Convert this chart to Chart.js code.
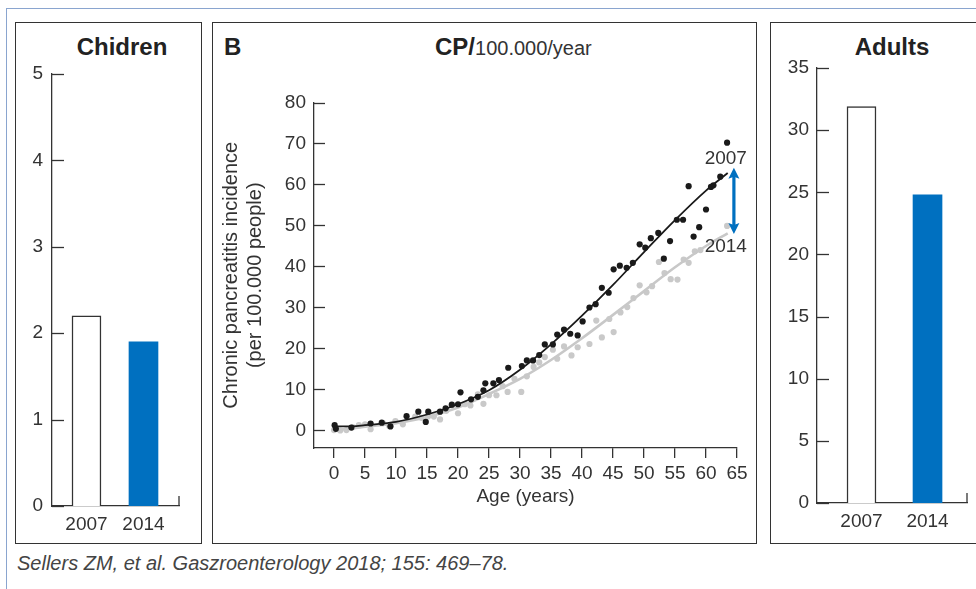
<!DOCTYPE html>
<html><head><meta charset="utf-8">
<script src="https://cdn.jsdelivr.net/npm/chart.js@4.4.1/dist/chart.umd.min.js"></script>
<style>
html,body{margin:0;padding:0;background:#fff;}
body{width:976px;height:589px;position:relative;overflow:hidden;font-family:"Liberation Sans",Arial,sans-serif;color:#333;}
.frame{position:absolute;left:6px;top:8px;width:1000px;height:620px;border-top:1.5px solid #8aa5cf;border-left:1.5px solid #8aa5cf;}
.box{position:absolute;border:1.5px solid #333;box-sizing:border-box;}
.cv{position:absolute;}
.t{position:absolute;white-space:nowrap;line-height:1;}
</style></head><body>
<div class="frame"></div>
<div class="box" style="left:15px;top:22px;width:187px;height:522px;"></div>
<div class="box" style="left:212px;top:22px;width:545px;height:522px;"></div>
<div class="box" style="left:770px;top:22px;width:230px;height:522px;"></div>

<div class="t" style="left:122px;top:47px;transform:translate(-50%,-50%);font-weight:bold;font-size:24px;color:#222;">Chidren</div>
<div class="t" style="left:892px;top:47px;transform:translate(-50%,-50%);font-weight:bold;font-size:24px;color:#222;">Adults</div>
<div class="t" style="left:224px;top:47px;transform:translate(0,-50%);font-weight:bold;font-size:24px;color:#222;">B</div>
<div class="t" style="left:435px;top:47px;transform:translate(0,-50%);color:#222;"><b style="font-size:24px;">CP/</b><span style="font-size:20px;color:#333;">100.000/year</span></div>
<div class="t" style="left:17px;top:563px;transform:translate(0,-50%);font-style:italic;font-size:20px;color:#444;">Sellers ZM, et al. Gaszroenterology 2018; 155: 469–78.</div>

<canvas id="cLeft" class="cv" width="185" height="520" style="left:16px;top:23px;width:185px;height:520px;"></canvas>
<canvas id="cMid" class="cv" width="543" height="519" style="left:213px;top:23px;width:543px;height:519px;"></canvas>
<canvas id="cRight" class="cv" width="205" height="520" style="left:771px;top:23px;width:205px;height:520px;"></canvas>

<script>
// ---------- data ----------
const yearCats = ['2007', '2014'];
const childVals = [2.2, 1.9];
const adultVals = [31.9, 24.8];
const childTicks = [0, 1, 2, 3, 4, 5];
const adultTicks = [0, 5, 10, 15, 20, 25, 30, 35];
const ageTicks = [0, 5, 10, 15, 20, 25, 30, 35, 40, 45, 50, 55, 60, 65];
const incTicks = [0, 5, 10, 15, 20, 25, 30, 35, 40, 45, 50, 55, 60, 65, 70, 75, 80];

const age2007 = [0.1, 0.3, 2.8, 5.9, 7.7, 9.1, 11.7, 13.6, 14.8, 15.2, 17.1, 18.0, 19.0, 20.0, 20.4, 22.1, 23.2, 24.1, 24.4, 25.7, 26.6, 28.1, 30.3, 31.1, 32.1, 33.1, 34.0, 35.3, 36.0, 37.1, 38.1, 39.3, 40.1, 41.2, 42.2, 43.2, 44.3, 45.1, 46.1, 47.2, 48.2, 49.3, 50.2, 51.1, 52.3, 53.2, 54.2, 55.3, 56.3, 57.2, 58.0, 58.9, 60.0, 60.8, 61.2, 62.3, 63.4];
const inc2007 = [1.3, 0.4, 0.7, 1.7, 1.9, 1.0, 3.5, 4.6, 2.1, 4.6, 4.6, 5.4, 6.3, 6.4, 9.3, 7.6, 8.2, 9.8, 11.5, 11.5, 12.3, 15.3, 15.7, 17.1, 17.1, 18.4, 21.0, 21.0, 23.4, 24.6, 23.6, 23.2, 26.6, 30.0, 30.8, 34.8, 33.6, 39.3, 40.2, 39.7, 40.9, 45.4, 44.6, 46.9, 48.2, 41.9, 46.2, 51.4, 51.4, 59.6, 47.3, 49.6, 53.9, 59.4, 59.8, 61.9, 70.2];

const age2014 = [0.0, 1.0, 2.0, 3.0, 4.0, 5.0, 5.9, 7.9, 8.9, 9.9, 11.1, 13.1, 14.1, 15.2, 16.1, 17.1, 18.1, 19.0, 20.0, 21.1, 22.0, 23.2, 24.1, 25.0, 26.2, 27.2, 28.0, 29.1, 30.2, 31.1, 32.2, 33.1, 34.0, 35.3, 36.0, 37.1, 38.3, 39.3, 41.2, 42.3, 43.2, 44.4, 45.1, 46.2, 47.3, 48.3, 49.3, 50.4, 51.3, 52.4, 53.3, 54.3, 55.4, 56.4, 57.2, 58.2, 59.1, 63.4];
const inc2014 = [0.1, 0.0, 0.1, 0.8, 1.3, 1.5, 0.3, 1.8, 1.1, 2.3, 1.5, 3.4, 3.1, 3.5, 3.4, 2.7, 4.8, 6.2, 4.2, 6.4, 6.1, 8.8, 6.5, 8.6, 8.6, 10.8, 9.4, 12.6, 9.4, 13.2, 15.5, 16.6, 17.9, 19.7, 17.5, 20.5, 18.3, 20.3, 21.1, 26.8, 22.7, 27.2, 24.0, 28.8, 30.1, 32.3, 35.4, 33.7, 35.2, 41.1, 38.4, 36.9, 36.8, 41.7, 40.9, 43.7, 44.0, 49.9];

const fitAge = [0, 3, 5, 10, 15, 20, 25, 30, 35, 40, 45, 50, 55, 60, 63.5];
const fit2007 = [1.0, 1.0, 1.3, 2.1, 3.9, 6.4, 9.8, 14.8, 21.0, 28.0, 35.5, 43.5, 51.3, 58.5, 62.8];
const fit2014 = [0.2, 0.5, 0.9, 1.8, 3.3, 5.6, 8.9, 12.6, 17.2, 22.5, 28.2, 34.0, 39.8, 45.0, 48.1];

const arrowAge = [64.5];
const arrowRange = [47.9, 64.1];

// ---------- helpers ----------
const pts = (xs, ys) => xs.map((x, i) => ({x: x, y: ys[i]}));
const INK = '#333';
const BLUE = '#0070c0';
Chart.defaults.font.family = '"Liberation Sans", Arial, sans-serif';
Chart.defaults.color = INK;
Chart.defaults.devicePixelRatio = 1;

const decorPlugin = {
  id: 'decor',
  afterDraw(chart, args, opts) {
    const ctx = chart.ctx, ca = chart.chartArea, ys = chart.scales.y;
    ctx.save();
    ctx.strokeStyle = INK;
    ctx.lineWidth = 1.3;
    if (opts.inTick) {
      ys.ticks.forEach(t => {
        const py = Math.round(ys.getPixelForValue(t.value)) + 0.5;
        ctx.beginPath(); ctx.moveTo(ca.left, py); ctx.lineTo(ca.left + opts.inTick, py); ctx.stroke();
      });
    }
    if (opts.endTick) {
      ctx.beginPath(); ctx.moveTo(ca.right, ca.bottom); ctx.lineTo(ca.right, ca.bottom - opts.endTick); ctx.stroke();
    }
    if (opts.arrow) {
      const xs = chart.scales.x;
      const px = xs.getPixelForValue(arrowAge[0]);
      const top = ys.getPixelForValue(arrowRange[1]);
      const bot = ys.getPixelForValue(arrowRange[0]);
      ctx.fillStyle = BLUE;
      ctx.fillRect(px - 1.6, top + 8, 3.2, bot - top - 16);
      ctx.beginPath(); ctx.moveTo(px, top); ctx.lineTo(px - 5.5, top + 11); ctx.lineTo(px, top + 9); ctx.lineTo(px + 5.5, top + 11); ctx.closePath(); ctx.fill();
      ctx.beginPath(); ctx.moveTo(px, bot); ctx.lineTo(px - 5.5, bot - 11); ctx.lineTo(px, bot - 9); ctx.lineTo(px + 5.5, bot - 11); ctx.closePath(); ctx.fill();
      ctx.fillStyle = INK;
      ctx.font = '19px "Liberation Sans", Arial, sans-serif';
      ctx.textAlign = 'right';
      ctx.textBaseline = 'middle';
      ctx.fillText(yearCats[0], px + 13, top - 9);
      ctx.fillText(yearCats[1], px + 13, bot + 13);
    }
    ctx.restore();
  }
};

function barChart(id, vals, ticks, cfg) {
  return new Chart(document.getElementById(id), {
    type: 'bar',
    data: {
      datasets: [{
        data: pts([0, 1], vals),
        backgroundColor: ['#ffffff', BLUE],
        borderColor: [INK, BLUE],
        borderWidth: [1.5, 0],
        barThickness: 29
      }]
    },
    options: {
      responsive: false, animation: false, devicePixelRatio: 1,
      layout: {padding: cfg.pad},
      plugins: {legend: {display: false}, tooltip: {enabled: false}, decor: {inTick: 12, endTick: 10}},
      scales: {
        x: {
          type: 'linear', min: cfg.xmin, max: cfg.xmax, offset: false,
          grid: {display: false, offset: false, drawTicks: false},
          border: {display: true, color: INK, width: 1.3},
          afterBuildTicks: s => { s.ticks = [0, 1].map(v => ({value: v})); },
          afterFit: s => { s.height = 30; s.paddingLeft = 0; s.paddingRight = 0; },
          ticks: {padding: 7, font: {size: 19}, color: INK, maxRotation: 0, autoSkip: false,
                  callback: v => yearCats[v]}
        },
        y: {
          min: ticks[0], max: ticks[ticks.length - 1],
          grid: {display: false, drawTicks: false},
          border: {display: true, color: INK, width: 1.3},
          afterBuildTicks: s => { s.ticks = ticks.map(v => ({value: v})); },
          afterFit: s => { s.width = cfg.yw; s.paddingTop = 0; s.paddingBottom = 0; },
          ticks: {padding: cfg.ypad, font: {size: 19}, color: INK}
        }
      }
    },
    plugins: [decorPlugin]
  });
}

barChart('cLeft', childVals, childTicks, {pad: {left: 0, top: 51, right: 22, bottom: 7}, xmin: -0.605, xmax: 1.623, yw: 36, ypad: 9});
barChart('cRight', adultVals, adultTicks, {pad: {left: 0, top: 45, right: 9, bottom: 10}, xmin: -0.674, xmax: 1.598, yw: 46, ypad: 8});

new Chart(document.getElementById('cMid'), {
  type: 'scatter',
  data: {
    datasets: [
      {label: '2007', data: pts(age2007, inc2007), pointRadius: 3.1, pointBackgroundColor: '#1a1a1a', pointBorderWidth: 0, order: 0},
      {label: 'fit 2007', data: pts(fitAge, fit2007), showLine: true, borderColor: '#1a1a1a', borderWidth: 1.8, pointRadius: 0, cubicInterpolationMode: 'monotone', order: 1},
      {label: 'fit 2014', data: pts(fitAge, fit2014), showLine: true, borderColor: '#c8c8c8', borderWidth: 2.6, pointRadius: 0, cubicInterpolationMode: 'monotone', order: 2},
      {label: '2014', data: pts(age2014, inc2014), pointRadius: 3.1, pointBackgroundColor: '#c9c9c9', pointBorderWidth: 0, order: 3}
    ]
  },
  options: {
    responsive: false, animation: false, devicePixelRatio: 1,
    layout: {padding: {left: 0, top: 79.5, right: 19, bottom: 33.6}},
    plugins: {legend: {display: false}, tooltip: {enabled: false}, decor: {inTick: 11, arrow: true}},
    scales: {
      x: {
        type: 'linear', min: -3.23, max: 65,
        grid: {display: true, drawOnChartArea: false, drawTicks: true, tickLength: 10, color: INK, lineWidth: 1.3},
        border: {display: true, color: INK, width: 1.3},
        afterBuildTicks: s => { s.ticks = ageTicks.map(v => ({value: v})); },
        afterFit: s => { s.height = 60.4; s.paddingLeft = 0; s.paddingRight = 0; },
        ticks: {padding: 4, font: {size: 19}, color: INK, maxRotation: 0, autoSkip: false, callback: v => String(v)},
        title: {display: true, text: 'Age (years)', font: {size: 19, lineHeight: 1.2}, color: INK, padding: 0}
      },
      y: {
        type: 'linear', min: -4.27, max: 80,
        grid: {display: false, drawTicks: false},
        border: {display: true, color: INK, width: 1.3},
        afterBuildTicks: s => { s.ticks = incTicks.map(v => ({value: v})); },
        afterFit: s => { s.width = 101; s.paddingTop = 0; s.paddingBottom = 0; },
        ticks: {padding: 8, font: {size: 19}, color: INK, callback: v => (v % 10 === 0 ? String(v) : '')},
        title: {display: true, text: ['Chronic pancreatitis incidence', '(per 100.000 people)'],
                font: {size: 20, lineHeight: 1.22}, color: INK, padding: {top: 6.3, bottom: 0}}
      }
    }
  },
  plugins: [decorPlugin]
});
</script>
</body></html>
